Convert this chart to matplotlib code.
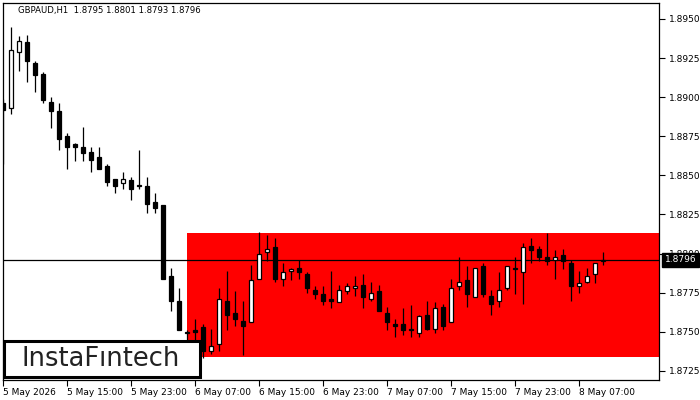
import numpy as np
import matplotlib.pyplot as plt
from matplotlib.patches import Rectangle

# GBPAUD H1 bars, 5 May 07:00 .. 8 May 10:00
opens = [1.8896, 1.8893, 1.8929, 1.8935, 1.8922, 1.8915, 1.8897, 1.8891, 1.8875, 1.8870,
         1.8868, 1.8865, 1.8862, 1.8856, 1.8848, 1.8845, 1.8847, 1.8844, 1.8843, 1.8833,
         1.8831, 1.8786, 1.8770, 1.8750, 1.8751, 1.8753, 1.8738, 1.8742, 1.8770, 1.8762,
         1.8757, 1.8756, 1.8784, 1.8801, 1.8804, 1.8784, 1.8789, 1.8791, 1.8787, 1.8777,
         1.8774, 1.8771, 1.8769, 1.8776, 1.8778, 1.8780, 1.8771, 1.8776, 1.8762, 1.8755,
         1.8755, 1.8752, 1.8749, 1.8761, 1.8752, 1.8766, 1.8756, 1.8779, 1.8783, 1.8772,
         1.8792, 1.8773, 1.8770, 1.8778, 1.8791, 1.8788, 1.8805, 1.8803, 1.8798, 1.8796,
         1.8799, 1.8794, 1.8779, 1.8782, 1.8787, 1.8795]
highs = [1.8899, 1.8945, 1.8939, 1.8940, 1.8923, 1.8916, 1.8900, 1.8896, 1.8877, 1.8871,
         1.8881, 1.8868, 1.8868, 1.8857, 1.8848, 1.8852, 1.8849, 1.8866, 1.8849, 1.8839,
         1.8831, 1.8791, 1.8778, 1.8751, 1.8758, 1.8755, 1.8752, 1.8778, 1.8789, 1.8776,
         1.8770, 1.8793, 1.8814, 1.8812, 1.8810, 1.8794, 1.8791, 1.8796, 1.8788, 1.8779,
         1.8779, 1.8789, 1.8780, 1.8781, 1.8786, 1.8787, 1.8782, 1.8780, 1.8766, 1.8758,
         1.8765, 1.8767, 1.8761, 1.8770, 1.8769, 1.8768, 1.8784, 1.8798, 1.8792, 1.8791,
         1.8794, 1.8777, 1.8788, 1.8792, 1.8798, 1.8807, 1.8810, 1.8805, 1.8813, 1.8802,
         1.8803, 1.8796, 1.8789, 1.8791, 1.8794, 1.8801]
lows = [1.8857, 1.8889, 1.8917, 1.8910, 1.8903, 1.8896, 1.8880, 1.8866, 1.8854, 1.8859,
        1.8859, 1.8852, 1.8854, 1.8843, 1.8839, 1.8841, 1.8834, 1.8841, 1.8826, 1.8826,
        1.8784, 1.8763, 1.8751, 1.8743, 1.8740, 1.8733, 1.8736, 1.8738, 1.8751, 1.8754,
        1.8735, 1.8756, 1.8784, 1.8795, 1.8782, 1.8779, 1.8783, 1.8784, 1.8775, 1.8771,
        1.8767, 1.8765, 1.8769, 1.8774, 1.8773, 1.8765, 1.8770, 1.8763, 1.8751, 1.8747,
        1.8748, 1.8747, 1.8747, 1.8751, 1.8749, 1.8751, 1.8756, 1.8777, 1.8766, 1.8772,
        1.8772, 1.8761, 1.8766, 1.8777, 1.8774, 1.8768, 1.8794, 1.8795, 1.8793, 1.8784,
        1.8790, 1.8770, 1.8775, 1.8781, 1.8781, 1.8793]
closes = [1.8892, 1.8930, 1.8936, 1.8923, 1.8914, 1.8898, 1.8891, 1.8873, 1.8868, 1.8868,
          1.8864, 1.8860, 1.8854, 1.8846, 1.8843, 1.8848, 1.8841, 1.8843, 1.8832, 1.8829,
          1.8784, 1.8770, 1.8751, 1.8749, 1.8750, 1.8738, 1.8741, 1.8771, 1.8761, 1.8758,
          1.8754, 1.8783, 1.8800, 1.8803, 1.8784, 1.8788, 1.8790, 1.8788, 1.8778, 1.8774,
          1.8770, 1.8770, 1.8777, 1.8779, 1.8779, 1.8772, 1.8775, 1.8763, 1.8756, 1.8754,
          1.8751, 1.8751, 1.8760, 1.8752, 1.8765, 1.8754, 1.8778, 1.8782, 1.8774, 1.8791,
          1.8774, 1.8768, 1.8777, 1.8792, 1.8790, 1.8804, 1.8802, 1.8798, 1.8795, 1.8798,
          1.8795, 1.8779, 1.8781, 1.8786, 1.8794, 1.8796]

time_labels = ["5 May 2026", "5 May 15:00", "5 May 23:00", "6 May 07:00", "6 May 15:00",
               "6 May 23:00", "7 May 07:00", "7 May 15:00", "7 May 23:00", "8 May 07:00"]
price_ticks = [1.8725, 1.8750, 1.8775, 1.8800, 1.8825, 1.8850, 1.8875, 1.8900, 1.8925, 1.8950]

# rectangle pattern zone
zone_start = 23
zone_top = 1.8813
zone_bottom = 1.8734
last_price = 1.8796

o = np.array(opens)
h = np.array(highs)
l = np.array(lows)
c = np.array(closes)
x = np.arange(len(o))
up = c >= o

fig = plt.figure(figsize=(7, 4), dpi=100)
ax = fig.add_axes([3 / 700, 20 / 400, 656 / 700, 377 / 400])

ax.add_patch(Rectangle((zone_start, zone_bottom), 82 - zone_start, zone_top - zone_bottom,
                       facecolor='#ff0000', edgecolor='none', zorder=1))
ax.axhline(last_price, color='black', lw=0.9, zorder=2)

ax.vlines(x, l, h, color='black', lw=0.9, zorder=3)
body_low = np.minimum(o, c)
body_h = np.maximum(np.abs(c - o), 0.00003)
ax.bar(x[up], body_h[up], bottom=body_low[up], width=0.62, color='white',
       edgecolor='black', linewidth=0.9, zorder=4)
ax.bar(x[~up], body_h[~up], bottom=body_low[~up], width=0.62, color='black',
       edgecolor='black', linewidth=0.9, zorder=4)

ax.set_xlim(0, 82)
ax.set_ylim(1.87192, 1.89602)

ax.yaxis.tick_right()
ax.set_yticks(price_ticks)
ax.set_yticklabels([f"{p:.4f}" for p in price_ticks])
ax.set_xticks(np.arange(0, len(o), 8))
ax.set_xticklabels(time_labels, ha='left')
ax.tick_params(axis='y', length=4, width=0.8, pad=3, labelsize=6.5)
ax.tick_params(axis='x', length=4, width=0.8, pad=2, labelsize=6.5)
for s in ax.spines.values():
    s.set_linewidth(0.9)

# current price tag, drawn over the 1.8800 label like the terminal does
ax.annotate(f"{last_price:.4f}", xy=(1.0, last_price), xycoords=('axes fraction', 'data'),
            xytext=(4, 0), textcoords='offset points', va='center', ha='left',
            fontsize=6.5, color='white', annotation_clip=False, zorder=5,
            bbox=dict(boxstyle='square,pad=0.3', fc='black', ec='black'))

fig.text(18 / 700, 1 - 11 / 400, "GBPAUD,H1  1.8795 1.8801 1.8793 1.8796",
         fontsize=6.1, va='center', ha='left')

# logo box
fig.add_artist(Rectangle((4 / 700, 1 - 377 / 400), 196 / 700, 36 / 400,
                         transform=fig.transFigure, facecolor='white',
                         edgecolor='black', linewidth=2.2, zorder=10))
fig.text(101 / 700, 1 - 359 / 400, "InstaFıntech", fontsize=18.5, color='#222222',
         ha='center', va='center', zorder=11)

fig.savefig("out.png", dpi=100)
